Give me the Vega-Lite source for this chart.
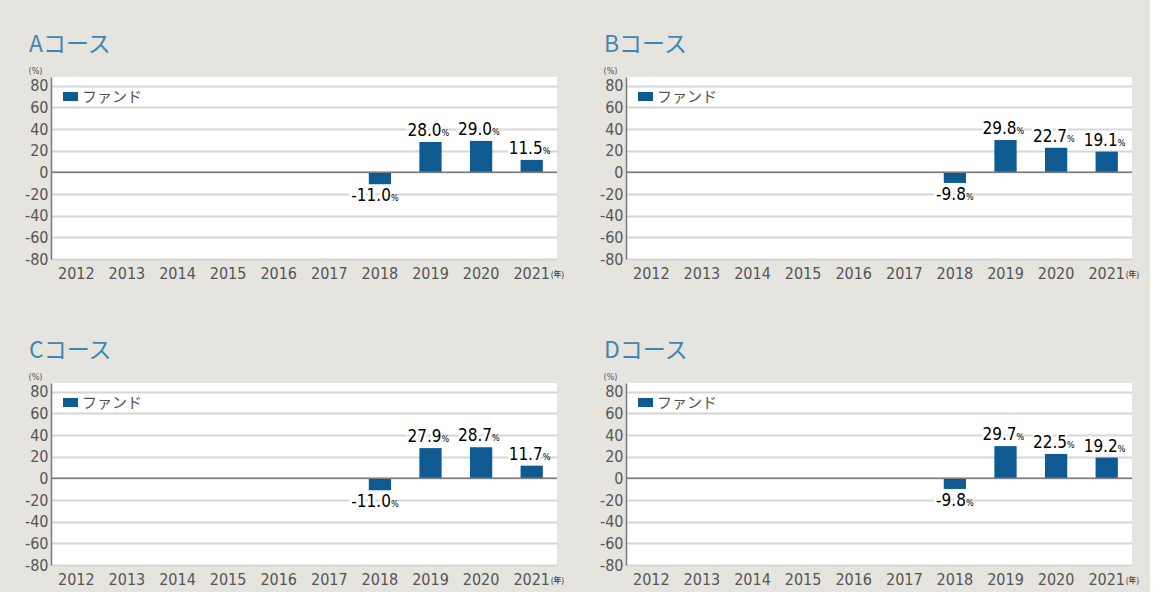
{
  "$schema": "https://vega.github.io/schema/vega-lite/v6.json",
  "padding": {"left": 24, "top": 34, "right": 10, "bottom": 5},
  "background": "#e6e4df",
  "data": {"values": [
    {"course": "A", "year": "2018", "value": -11.0},
    {"course": "A", "year": "2019", "value": 28.0},
    {"course": "A", "year": "2020", "value": 29.0},
    {"course": "A", "year": "2021", "value": 11.5},
    {"course": "B", "year": "2018", "value": -9.8},
    {"course": "B", "year": "2019", "value": 29.8},
    {"course": "B", "year": "2020", "value": 22.7},
    {"course": "B", "year": "2021", "value": 19.1},
    {"course": "C", "year": "2018", "value": -11.0},
    {"course": "C", "year": "2019", "value": 27.9},
    {"course": "C", "year": "2020", "value": 28.7},
    {"course": "C", "year": "2021", "value": 11.7},
    {"course": "D", "year": "2018", "value": -9.8},
    {"course": "D", "year": "2019", "value": 29.7},
    {"course": "D", "year": "2020", "value": 22.5},
    {"course": "D", "year": "2021", "value": 19.2}
  ]},
  "columns": 2,
  "spacing": {"row": 59, "column": 34},
  "resolve": {"scale": {"color": "independent"}, "legend": {"color": "independent"}},
  "concat": [
    {
      "title": "Aコース", "width": 506, "height": 182,
      "transform": [{"filter": "datum.course === 'A'"}],
      "layer": [
        {"mark": {"type": "bar"}, "encoding": {
          "x": {"field": "year", "type": "ordinal", "scale": {"domain": ["2012","2013","2014","2015","2016","2017","2018","2019","2020","2021"], "paddingInner": 0.56, "paddingOuter": 0.28}},
          "y": {"field": "value", "type": "quantitative", "scale": {"domain": [-80, 88], "nice": false}, "axis": {"title": "(%)", "values": [-80,-60,-40,-20,0,20,40,60,80]}},
          "color": {"datum": "ファンド", "scale": {"range": ["#0e5a91"]}}}},
        {"data": {"values": [{}]}, "mark": {"type": "rule", "color": "#7d7d7d", "strokeWidth": 1.5}, "encoding": {"y": {"datum": 0}}},
        {"mark": {"type": "text", "style": "halonum"}, "encoding": {"x": {"field": "year", "type": "ordinal"}, "y": {"field": "value", "type": "quantitative"}}},
        {"mark": {"type": "text", "style": "num"}, "encoding": {"x": {"field": "year", "type": "ordinal"}, "y": {"field": "value", "type": "quantitative"}}},
        {"mark": {"type": "text", "style": "pct"}, "encoding": {"x": {"field": "year", "type": "ordinal"}, "y": {"field": "value", "type": "quantitative"}, "text": {"value": "%"}}},
        {"transform": [{"filter": "datum.year === '2021'"}], "mark": {"type": "text", "style": "nen"}, "encoding": {"x": {"field": "year", "type": "ordinal"}, "y": {"datum": -80}, "text": {"value": "(年)"}}}
      ]
    },
    {
      "title": "Bコース", "width": 506, "height": 182,
      "transform": [{"filter": "datum.course === 'B'"}],
      "layer": [
        {"mark": {"type": "bar"}, "encoding": {
          "x": {"field": "year", "type": "ordinal", "scale": {"domain": ["2012","2013","2014","2015","2016","2017","2018","2019","2020","2021"], "paddingInner": 0.56, "paddingOuter": 0.28}},
          "y": {"field": "value", "type": "quantitative", "scale": {"domain": [-80, 88], "nice": false}, "axis": {"title": "(%)", "values": [-80,-60,-40,-20,0,20,40,60,80]}},
          "color": {"datum": "ファンド", "scale": {"range": ["#0e5a91"]}}}},
        {"data": {"values": [{}]}, "mark": {"type": "rule", "color": "#7d7d7d", "strokeWidth": 1.5}, "encoding": {"y": {"datum": 0}}},
        {"mark": {"type": "text", "style": "halonum"}, "encoding": {"x": {"field": "year", "type": "ordinal"}, "y": {"field": "value", "type": "quantitative"}}},
        {"mark": {"type": "text", "style": "num"}, "encoding": {"x": {"field": "year", "type": "ordinal"}, "y": {"field": "value", "type": "quantitative"}}},
        {"mark": {"type": "text", "style": "pct"}, "encoding": {"x": {"field": "year", "type": "ordinal"}, "y": {"field": "value", "type": "quantitative"}, "text": {"value": "%"}}},
        {"transform": [{"filter": "datum.year === '2021'"}], "mark": {"type": "text", "style": "nen"}, "encoding": {"x": {"field": "year", "type": "ordinal"}, "y": {"datum": -80}, "text": {"value": "(年)"}}}
      ]
    },
    {
      "title": "Cコース", "width": 506, "height": 182,
      "transform": [{"filter": "datum.course === 'C'"}],
      "layer": [
        {"mark": {"type": "bar"}, "encoding": {
          "x": {"field": "year", "type": "ordinal", "scale": {"domain": ["2012","2013","2014","2015","2016","2017","2018","2019","2020","2021"], "paddingInner": 0.56, "paddingOuter": 0.28}},
          "y": {"field": "value", "type": "quantitative", "scale": {"domain": [-80, 88], "nice": false}, "axis": {"title": "(%)", "values": [-80,-60,-40,-20,0,20,40,60,80]}},
          "color": {"datum": "ファンド", "scale": {"range": ["#0e5a91"]}}}},
        {"data": {"values": [{}]}, "mark": {"type": "rule", "color": "#7d7d7d", "strokeWidth": 1.5}, "encoding": {"y": {"datum": 0}}},
        {"mark": {"type": "text", "style": "halonum"}, "encoding": {"x": {"field": "year", "type": "ordinal"}, "y": {"field": "value", "type": "quantitative"}}},
        {"mark": {"type": "text", "style": "num"}, "encoding": {"x": {"field": "year", "type": "ordinal"}, "y": {"field": "value", "type": "quantitative"}}},
        {"mark": {"type": "text", "style": "pct"}, "encoding": {"x": {"field": "year", "type": "ordinal"}, "y": {"field": "value", "type": "quantitative"}, "text": {"value": "%"}}},
        {"transform": [{"filter": "datum.year === '2021'"}], "mark": {"type": "text", "style": "nen"}, "encoding": {"x": {"field": "year", "type": "ordinal"}, "y": {"datum": -80}, "text": {"value": "(年)"}}}
      ]
    },
    {
      "title": "Dコース", "width": 506, "height": 182,
      "transform": [{"filter": "datum.course === 'D'"}],
      "layer": [
        {"mark": {"type": "bar"}, "encoding": {
          "x": {"field": "year", "type": "ordinal", "scale": {"domain": ["2012","2013","2014","2015","2016","2017","2018","2019","2020","2021"], "paddingInner": 0.56, "paddingOuter": 0.28}},
          "y": {"field": "value", "type": "quantitative", "scale": {"domain": [-80, 88], "nice": false}, "axis": {"title": "(%)", "values": [-80,-60,-40,-20,0,20,40,60,80]}},
          "color": {"datum": "ファンド", "scale": {"range": ["#0e5a91"]}}}},
        {"data": {"values": [{}]}, "mark": {"type": "rule", "color": "#7d7d7d", "strokeWidth": 1.5}, "encoding": {"y": {"datum": 0}}},
        {"mark": {"type": "text", "style": "halonum"}, "encoding": {"x": {"field": "year", "type": "ordinal"}, "y": {"field": "value", "type": "quantitative"}}},
        {"mark": {"type": "text", "style": "num"}, "encoding": {"x": {"field": "year", "type": "ordinal"}, "y": {"field": "value", "type": "quantitative"}}},
        {"mark": {"type": "text", "style": "pct"}, "encoding": {"x": {"field": "year", "type": "ordinal"}, "y": {"field": "value", "type": "quantitative"}, "text": {"value": "%"}}},
        {"transform": [{"filter": "datum.year === '2021'"}], "mark": {"type": "text", "style": "nen"}, "encoding": {"x": {"field": "year", "type": "ordinal"}, "y": {"datum": -80}, "text": {"value": "(年)"}}}
      ]
    }
  ],
  "config": {
    "font": "DejaVu Sans Condensed, sans-serif",
    "view": {"fill": "white", "stroke": null},
    "title": {"anchor": "start", "frame": "group", "dx": -22, "fontSize": 23, "font": "Noto Sans CJK JP", "fontWeight": "normal", "color": "#3f87b3", "offset": 9},
    "axisY": {"grid": true, "tickCount": 9, "gridColor": "#d6d6d6", "gridWidth": 2, "domain": true, "domainColor": "#7a7a7a", "domainWidth": 1.5, "ticks": false, "labelPadding": 3, "labelFontSize": 16, "labelColor": "#555555", "labelOverlap": false, "labelExpr": "datum.value + ''", "titleAngle": 0, "titleFontSize": 9, "titleFontWeight": "normal", "titleColor": "#555555", "titleX": -16, "titleY": -2, "titleAlign": "center", "titleBaseline": "bottom"},
    "axisX": {"grid": false, "domain": false, "ticks": false, "labelAngle": 0, "labelPadding": 6, "labelFontSize": 16, "labelColor": "#555555", "labelOverlap": false, "title": null},
    "legend": {"orient": "top-left", "offset": 12, "title": null, "labelFont": "Noto Sans CJK JP", "labelFontSize": 15, "labelColor": "#555555", "symbolType": "M-1,-0.6H1V0.6H-1Z", "symbolSize": 225, "symbolStrokeWidth": 0, "labelOffset": 4},
    "style": {
      "halonum": {"fontSize": 17, "fill": "white", "stroke": "white", "strokeWidth": 5, "align": "right", "dx": 11, "baseline": "alphabetic", "dy": {"expr": "datum.value < 0 ? 17 : -6"}, "text": {"expr": "replace(format(datum.value, '.1f'), '\u2212', '-')"}},
      "num": {"fontSize": 17, "fill": "#4a4a4a", "align": "right", "dx": 11, "baseline": "alphabetic", "dy": {"expr": "datum.value < 0 ? 17 : -6"}, "text": {"expr": "replace(format(datum.value, '.1f'), '\u2212', '-')"}},
      "pct": {"fontSize": 9, "fill": "#4a4a4a", "align": "left", "dx": 11, "baseline": "alphabetic", "dy": {"expr": "datum.value < 0 ? 17 : -6"}},
      "nen": {"fontSize": 8, "fill": "#555555", "align": "left", "dx": 19, "baseline": "middle", "dy": 16, "font": "Noto Sans CJK JP"}
    }
  }
}
